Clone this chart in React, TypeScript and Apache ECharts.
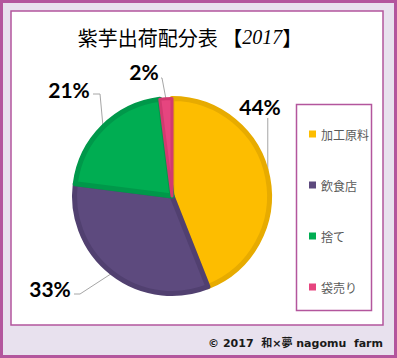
import React, { useEffect, useRef } from "react";
import * as echarts from "echarts";

const categories = ["加工原料", "飲食店", "捨て", "袋売り"];
const values = [44, 33, 21, 2];
const fillColors = ["#fdbd00", "#5d4a7e", "#00ad52", "#e6457f"];
const edgeColors = ["#e7ab00", "#514070", "#00984a", "#d23a70"];

const titleMain = "紫芋出荷配分表 ";
const titleOpen = "【";
const titleYear = "2017";
const titleEnd = "】";
const footerText = "© 2017  和×夢 nagomu  farm";

// label placement (label centres and label-line bends), per slice
const labelCenters = [
  [260, 106.5],
  [50, 288.5],
  [69, 89.5],
  [144, 71],
];
const labelBends = [
  [[0, 118], [0, 118]],
  [[80, 294], [74, 294]],
  [[100, 94], [93, 94]],
  [[162, 78], [161, 78]],
];

const PURPLE = "#b3569d";

export default function App() {
  const ref = useRef<HTMLDivElement>(null);
  useEffect(() => {
    if (!ref.current) return;
    const chart = echarts.init(ref.current, null, { renderer: "svg" });
    chart.setOption({
      animation: false,
      graphic: [
        {
          type: "rect",
          z: 0,
          shape: { x: 1.5, y: 1.5, width: 394, height: 355 },
          style: { fill: "#e8e1ee", stroke: PURPLE, lineWidth: 3 },
        },
        {
          type: "rect",
          z: 1,
          shape: { x: 11, y: 11, width: 372, height: 314 },
          style: { fill: "#ffffff", stroke: PURPLE, lineWidth: 1.5 },
        },
        {
          type: "rect",
          z: 1,
          shape: { x: 296.5, y: 104.5, width: 75, height: 206 },
          style: { fill: "none", stroke: PURPLE, lineWidth: 1.5 },
        },
        {
          type: "text",
          z: 2,
          x: 190,
          y: 37,
          style: {
            text: `{a|${titleMain}}{c|${titleOpen}}{b|${titleYear}}{c|${titleEnd}}`,
            align: "center",
            verticalAlign: "middle",
            rich: {
              a: { fontSize: 20, color: "#595959", fontFamily: "Noto Sans CJK JP" },
              c: { fontSize: 20, color: "#6a6a6a", fontFamily: "Noto Sans CJK JP" },
              b: { fontSize: 20, color: "#595959", fontStyle: "italic", fontFamily: "Liberation Serif" },
            },
          },
        },
        {
          type: "text",
          z: 2,
          x: 383,
          y: 343,
          style: {
            text: footerText,
            align: "right",
            verticalAlign: "middle",
            fontSize: 11,
            fontWeight: "bold",
            fill: "#1a1a1a",
            fontFamily: "DejaVu Sans, Noto Sans CJK JP",
          },
        },
      ],
      legend: {
        orient: "vertical",
        left: 304,
        top: 122,
        itemWidth: 7,
        itemHeight: 7,
        itemGap: 37,
        icon: "rect",
        data: categories,
        itemStyle: { borderWidth: 0 },
        textStyle: {
          fontSize: 12,
          lineHeight: 14,
          color: "#595959",
          fontFamily: "Noto Sans CJK JP",
        },
      },
      series: [
        {
          type: "pie",
          center: [172, 196],
          radius: 97.5,
          startAngle: 90,
          clockwise: true,
          z: 3,
          data: categories.map((name, i) => ({
            name,
            value: values[i],
            itemStyle: { color: fillColors[i], borderColor: edgeColors[i], borderWidth: i === 3 ? 3 : 5 },
          })),
          label: {
            show: true,
            position: "outside",
            formatter: (p: any) => Math.round(p.percent) + "%",
            fontSize: 21,
            fontWeight: "bold",
            color: "#000000",
            fontFamily: "Lato",
          },
          labelLine: {
            show: true,
            lineStyle: { color: "#a6a6a6", width: 1 },
          },
          labelLayout: (params: any) => {
            const i = params.dataIndex;
            const start = params.labelLinePoints ? params.labelLinePoints[0] : [0, 0];
            const bends = labelBends[i].map((pt) =>
              i === 0 ? [start[0], pt[1]] : pt
            );
            return {
              x: labelCenters[i][0],
              y: labelCenters[i][1],
              align: "center",
              verticalAlign: "middle",
              labelLinePoints: [start, bends[0], bends[1]],
            };
          },
          emphasis: { disabled: true },
        },
      ],
    });
    return () => chart.dispose();
  }, []);
  return (
    <div
      ref={ref}
      style={{ position: "absolute", left: 0, top: 0, width: 397, height: 358 }}
    />
  );
}
